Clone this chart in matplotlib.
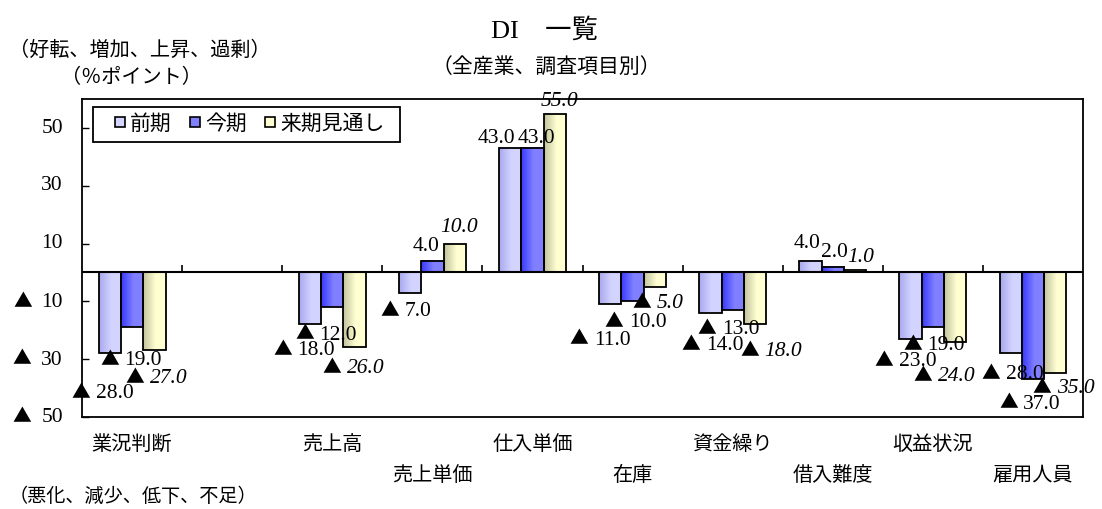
import numpy as np
import matplotlib
matplotlib.use('Agg')
import matplotlib.pyplot as plt
from matplotlib.lines import Line2D
from matplotlib.patches import Rectangle
from matplotlib.offsetbox import TextArea, HPacker, AnnotationBbox

plt.rcParams['font.family'] = ['Liberation Serif', 'Noto Sans CJK JP']

# data (one empty slot between 業況判断 and 売上高, as in the original)
categories = ['業況判断', '', '売上高', '売上単価', '仕入単価', '在庫',
              '資金繰り', '借入難度', '収益状況', '雇用人員']
prev_vals = [-28, np.nan, -18, -7, 43, -11, -14, 4, -23, -28]
curr_vals = [-19, np.nan, -12, 4, 43, -10, -13, 2, -19, -37]
next_vals = [-27, np.nan, -26, 10, 55, -5, -18, 1, -24, -35]
series_names = ['前期', '今期', '来期見通し']
ytick_vals = [50, 30, 10, -10, -30, -50]

# hand placed label offsets (pixels), like the moved labels of the source
prev_off = [(-7, -39), (0, 0), (-6, -25), (-4, -18), (-14, 10), (-10, -35),
            (2, -32), (-3, 17), (-5, -22), (2, -20)]
curr_off = [(-1, -32), (0, 0), (-6, -27), (-6, 14), (4, 10), (3, -20),
            (-4, -19), (2, 14), (1, -17), (-3, -24)]
next_off = [(2, -27), (0, 0), (-1, -20), (4, 16), (5, 12), (3, -16),
            (16, -26), (6, 12), (-11, -34), (8, -14)]

dark = [(0.66, 0.66, 0.93), (0.22, 0.22, 1.0), (0.76, 0.76, 0.62)]
light = [(0.83, 0.83, 1.0), (0.50, 0.50, 1.0), (1.0, 1.0, 0.82)]

FS = 14.5
NUM_FS = 15.5
SERIF = 'Liberation Serif'
CJK = 'Noto Sans CJK JP'

fig = plt.figure(figsize=(11.02, 5.09), dpi=100)
ax = fig.add_axes([0.0744, 0.1813, 0.9084, 0.6236])

x = np.arange(len(categories))
w = 0.223
all_vals = [prev_vals, curr_vals, next_vals]
all_off = [prev_off, curr_off, next_off]


def gradient_fill(ax, rect, c0, c1):
    t = np.linspace(0, 1, 64)
    mix = np.clip(t / 0.55, 0, 1)
    c0 = np.array(c0)
    c1 = np.array(c1)
    cols = c0 + (c1 - c0) * mix[:, None]
    x0, y0 = rect.get_x(), rect.get_y()
    ax.imshow(cols[None, :, :], extent=[x0, x0 + rect.get_width(), y0, y0 + rect.get_height()],
              aspect='auto', zorder=2, interpolation='bilinear')


def value_box(v, italic=False, sep=4, fmt='{:.1f}'):
    # ▲ taken from the CJK font (big, full width), digits in serif
    num = TextArea(fmt.format(abs(v)), textprops=dict(family=SERIF, size=NUM_FS,
                                                      style='italic' if italic else 'normal'))
    if v >= 0:
        return num
    tri = TextArea('▲', textprops=dict(family=CJK, size=FS - 1))
    return HPacker(children=[tri, num], align='baseline', pad=0, sep=sep)


for s, vals in enumerate(all_vals):
    bars = ax.bar(x + (s - 1) * w, vals, w, facecolor='none', edgecolor='black',
                  linewidth=1.3, zorder=3)
    for i, b in enumerate(bars):
        v = vals[i]
        if np.isnan(v):
            continue
        gradient_fill(ax, b, dark[s], light[s])
        ab = AnnotationBbox(value_box(v, italic=(s == 2)), (b.get_x() + w / 2, v),
                            xybox=all_off[s][i], boxcoords='offset pixels',
                            frameon=False, box_alignment=(0.5, 0.5), pad=0,
                            annotation_clip=False, zorder=5)
        ax.add_artist(ab)

ax.set_xlim(-0.5, len(categories) - 0.5)
ax.set_ylim(-50, 60)
ax.axhline(0, color='black', lw=1.5, zorder=4)
ax.vlines(np.arange(0.5, len(categories) - 0.5, 1), 0, 2.7, color='black', lw=1.2, zorder=4)

ax.set_yticks(ytick_vals, labels=[''] * len(ytick_vals))
ax.tick_params(axis='y', direction='in', length=5, width=1)
ax.tick_params(axis='x', bottom=False, labelbottom=False)
for sp in ax.spines.values():
    sp.set_linewidth(1.3)

for v in ytick_vals:
    ab = AnnotationBbox(value_box(v, sep=7, fmt='{:d}'), (0, v),
                        xycoords=('axes fraction', 'data'), xybox=(-19, 0),
                        boxcoords='offset pixels', frameon=False,
                        box_alignment=(1, 0.5), pad=0, annotation_clip=False)
    ax.add_artist(ab)

for i, name in enumerate(categories):
    ax.annotate(name, xy=(i, 0), xycoords=('data', 'axes fraction'),
                xytext=(0, -29 if i % 2 == 0 else -60), textcoords='offset pixels',
                ha='center', va='center', fontsize=FS, annotation_clip=False)

# legend: small squares, frame drawn separately to get the wide padding
handles = [Line2D([], [], ls='none', marker='s', markersize=6.5, markerfacecolor=light[k],
                  markeredgecolor='black', markeredgewidth=1.2) for k in range(3)]
leg = ax.legend(handles, series_names, loc='center left',
                bbox_to_anchor=((112 - 82) / 1001, (416.7 - 124.5) / 317.4),
                ncol=3, fontsize=15, frameon=False, handlelength=0.8,
                handletextpad=0.05, columnspacing=0.75, borderpad=0, borderaxespad=0)
leg.set_zorder(7)
ax.add_patch(Rectangle(((93 - 82) / 1001, (416.7 - 142) / 317.4), 307 / 1001, 35 / 317.4,
                       transform=ax.transAxes, facecolor='white', edgecolor='black',
                       linewidth=1.3, zorder=6))

fig.text(544 / 1102, 1 - 30 / 509, 'DI　一覧', ha='center', va='center', fontsize=19)
fig.text(546 / 1102, 1 - 67.5 / 509, '（全産業、調査項目別）', ha='center', va='center', fontsize=15)
fig.text(9 / 1102, 1 - 51 / 509, '（好転、増加、上昇、過剰）', ha='left', va='center', fontsize=FS)
fig.text(131 / 1102, 1 - 78 / 509, '（％ポイント）', ha='center', va='center', fontsize=FS)
fig.text(9 / 1102, 1 - 497 / 509, '（悪化、減少、低下、不足）', ha='left', va='center', fontsize=13.8)

fig.savefig('out.png', dpi=100)
